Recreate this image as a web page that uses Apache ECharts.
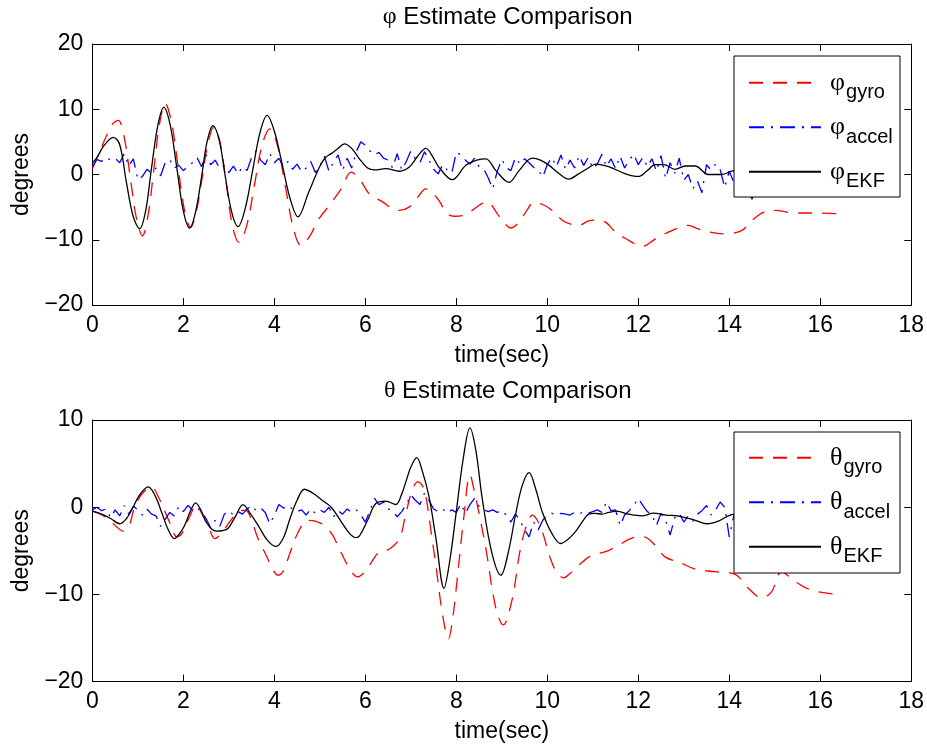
<!DOCTYPE html>
<html>
<head>
<meta charset="utf-8">
<script src="https://cdn.jsdelivr.net/npm/echarts@6/dist/echarts.min.js"></script>
<style>html,body{margin:0;padding:0;background:#fff}#c{width:927px;height:750px}</style>
</head>
<body>
<div id="c"></div>
<script>
// ---------- phi (roll) ----------
const phiGyroT = [0,0.15,0.3,0.45,0.57,0.7,0.835,0.97,1.1,1.225,1.35,1.475,1.6,1.74,1.88,2.02,2.16,2.29,2.415,2.54,2.67,2.81,2.945,3.08,3.22,3.39,3.56,3.73,3.9,4.07,4.245,4.42,4.59,4.8,4.95,5.2,5.47,5.69,5.87,6.09,6.38,6.6,6.75,6.96,7.15,7.33,7.5,7.62,7.8,7.95,8.13,8.35,8.55,8.68,8.9,9.05,9.2,9.38,9.55,9.7,9.9,10.11,10.33,10.55,10.69,10.91,11.1,11.28,11.5,11.79,12.0,12.1,12.37,12.74,13.1,13.3,13.54,13.91,14.27,14.49,14.75,15.0,15.44,15.88,16.36];
const phiGyroV = [0.9,3.3,5.8,7.8,8.3,5.7,-0.55,-6.8,-9.4,-6.2,0.75,7.7,10.9,8.0,1.4,-5.3,-8.1,-5.5,-0.4,4.7,7.3,4.8,-1.55,-7.9,-10.4,-7.9,-1.7,4.5,7.0,4.4,-1.95,-8.3,-10.9,-9.2,-7.1,-4.8,-2.2,0.35,-0.66,-3.0,-4.2,-5.3,-5.5,-5.0,-3.5,-2.2,-3.0,-4.0,-6.0,-6.4,-6.3,-5.5,-4.5,-4.2,-6.0,-7.4,-8.2,-7.3,-5.5,-4.3,-4.6,-5.5,-7.0,-7.7,-7.8,-7.1,-7.0,-7.3,-8.8,-10.1,-10.9,-11.0,-9.9,-8.6,-7.8,-8.3,-8.8,-9.1,-8.6,-7.1,-5.8,-5.5,-5.9,-5.9,-6.0];

const phiEkfT = [0,0.1,0.25,0.46,0.6,0.75,0.9,1.04,1.17,1.3,1.44,1.57,1.71,1.855,2.0,2.14,2.27,2.4,2.52,2.65,2.79,2.92,3.06,3.2,3.36,3.52,3.68,3.84,4.01,4.18,4.35,4.52,4.75,4.99,5.12,5.25,5.4,5.54,5.7,5.87,6.05,6.2,6.45,6.75,6.96,7.15,7.33,7.5,7.62,7.91,8.21,8.45,8.65,8.87,9.16,9.38,9.67,9.85,10.04,10.25,10.47,10.69,10.9,11.06,11.35,11.72,12.0,12.2,12.37,12.56,12.81,13.03,13.25,13.54,13.84,14.05,14.3,14.6,14.9,15.2,15.5,15.8,16.1,16.35];
const phiEkfV = [1.8,2.6,4.4,5.7,4.6,-1.3,-6.5,-8.3,-5.6,1.0,7.6,10.3,7.6,1.05,-5.6,-8.2,-5.7,-0.35,5.0,7.5,5.2,-0.25,-5.7,-8.0,-5.2,0.5,6.3,9.05,6.4,1.3,-3.8,-6.5,-2.8,1.1,2.6,3.2,4.0,4.7,4.0,2.4,1.0,0.7,0.9,0.5,1.1,2.8,4.0,2.5,1.1,-0.8,1.4,2.2,2.4,0.6,-1.2,0.6,2.5,2.2,1.4,0.2,-0.7,0.1,1.0,1.6,1.2,0.1,-0.3,0.6,1.5,1.5,0.8,1.3,1.3,0.0,0.0,0.5,0.8,0.3,0.6,0.2,0.5,0.3,0.4,0.3];

const accelStep = 0.1; // sampling period of the accelerometer estimates (s)
const phiAccelV = [1.2,2.3,2.0,2.6,2.2,2.5,1.8,3.2,1.3,2.4,-0.8,-0.3,0.8,0.2,1.0,-0.2,1.8,2.3,1.0,1.4,0.6,1.3,1.8,2.6,1.2,3.0,1.5,2.2,0.9,1.4,0.3,1.3,0.1,1.2,0.6,2.6,3.6,2.2,1.5,3.2,1.8,2.5,1.2,2.0,0.8,1.6,0.4,1.0,2.0,0.3,1.3,2.8,0.5,1.9,3.0,0.6,2.5,1.0,3.5,5.0,4.5,3.6,3.0,3.4,2.5,2.2,1.0,3.2,0.7,2.0,3.6,2.4,1.8,3.5,2.2,0.8,0.1,1.5,0.7,0.2,3.4,3.0,2.2,1.6,2.5,1.2,0.9,-0.5,-2.2,0.5,2.3,1.0,0.6,2.6,1.6,2.4,1.8,1.1,0.7,-0.4,1.5,2.6,1.2,3.0,0.8,2.2,1.0,2.9,1.4,2.6,0.9,1.6,3.1,1.2,2.4,0.9,2.8,1.0,2.2,3.1,1.5,2.6,1.2,2.4,0.5,2.9,-0.6,1.8,0.2,2.5,-0.9,0.0,-2.2,-1.0,-2.8,1.5,0.7,1.6,0.8,-2.0,0.5,-1.2,1.0,-0.5,-2.0,-3.8,-1.5,0.5,-1.0,0.8,-0.5,1.2,-0.8,0.6,-1.3,0.9,-0.4,1.1,-0.7,0.4,-0.9,0.7,-0.2,0.3];

// ---------- theta (pitch) ----------
const thGyroT = [0,0.22,0.4,0.53,0.68,0.8,0.93,1.1,1.3,1.45,1.63,1.75,1.85,1.97,2.1,2.29,2.45,2.55,2.69,2.85,3.0,3.2,3.37,3.5,3.64,3.82,3.95,4.08,4.2,4.3,4.52,4.73,4.9,5.1,5.28,5.45,5.61,5.83,5.95,6.09,6.31,6.53,6.75,6.88,7.02,7.15,7.25,7.33,7.45,7.55,7.7,7.83,7.9,7.99,8.17,8.3,8.41,8.53,8.65,8.87,9.03,9.23,9.4,9.55,9.67,9.85,10.07,10.2,10.36,10.5,10.69,10.98,11.28,11.57,11.79,12.0,12.12,12.37,12.59,12.96,13.25,13.69,14.13,14.42,14.71,14.93,15.15,15.44,15.8,16.36];
const thGyroV = [-0.46,-0.92,-1.6,-2.25,-2.75,-2.2,0.0,1.6,2.33,1.2,-0.92,-2.4,-3.4,-3.0,-1.5,0.15,-1.2,-2.2,-3.6,-2.9,-1.8,-0.54,-0.35,-1.5,-3.6,-5.5,-7.0,-7.8,-7.3,-5.9,-2.9,-1.5,-1.6,-2.1,-3.2,-5.0,-6.65,-8.0,-7.6,-6.65,-5.1,-4.8,-3.6,-1.0,1.8,2.9,2.5,1.3,-3.0,-6.65,-12.4,-15.1,-13.5,-9.7,-0.92,3.7,1.5,-1.5,-4.75,-11.6,-13.5,-10.5,-5.0,-2.0,-0.92,-2.25,-5.9,-7.4,-8.1,-7.6,-6.65,-5.5,-5.1,-4.35,-3.7,-3.4,-3.4,-4.35,-5.7,-6.45,-7.1,-7.4,-7.7,-9.3,-10.4,-9.7,-7.4,-8.5,-9.5,-10.0];

const thEkfT = [0,0.2,0.4,0.6,0.75,0.86,1.05,1.23,1.38,1.52,1.66,1.8,1.92,2.03,2.15,2.27,2.4,2.5,2.62,2.73,2.85,2.98,3.15,3.31,3.48,3.64,3.85,4.04,4.2,4.35,4.5,4.66,4.85,5.05,5.25,5.45,5.65,5.8,5.87,6.05,6.23,6.45,6.67,6.8,6.89,7.0,7.13,7.25,7.4,7.55,7.73,7.86,7.99,8.15,8.3,8.43,8.57,8.78,8.98,9.15,9.3,9.45,9.6,9.75,9.89,10.1,10.29,10.45,10.62,10.78,10.91,11.05,11.2,11.35,11.53,11.79,12.08,12.34,12.6,12.89,13.25,13.51,13.76,14.05,14.4,14.8,15.2,15.6,16.0,16.35];
const thEkfV = [-0.46,-0.8,-1.3,-1.9,-1.3,-0.35,1.5,2.33,1.3,-0.54,-2.5,-3.6,-3.0,-2.06,-0.5,0.5,-0.5,-1.7,-2.5,-2.75,-2.7,-2.45,-1.0,0.3,-0.8,-2.06,-3.8,-4.5,-3.5,-1.2,0.8,2.06,1.6,0.8,0.0,-1.5,-3.0,-3.5,-3.3,-1.5,0.42,0.69,0.31,1.5,2.9,4.6,5.69,4.2,1.2,-3.5,-9.3,-6.0,-0.9,5.5,9.09,6.5,0.99,-5.2,-7.8,-5.0,-0.9,2.5,3.97,2.0,-0.54,-3.0,-4.16,-3.7,-2.8,-1.6,-0.8,-0.7,-0.8,-0.6,-0.46,-0.8,-1.0,-0.69,-0.9,-1.03,-1.5,-1.9,-1.6,-0.84,-0.7,-0.9,-0.6,-0.8,-0.7,-0.8];

const thAccelV = [-0.3,0.0,-0.4,-0.2,-1.2,-0.3,-1.0,0.2,-0.8,0.1,-0.3,-0.9,-0.2,-0.8,-1.0,-2.2,-1.4,-0.6,-1.0,0.1,-0.5,0.2,-0.3,0.0,-0.6,-1.3,-2.4,-1.5,-2.2,-0.8,-0.4,-0.9,-0.5,-0.8,-0.2,0.2,-0.4,-0.1,-0.6,-1.9,-0.9,0.3,-0.1,0.2,-0.2,-0.5,-0.3,-0.9,-0.2,-0.7,-0.3,-0.6,0.0,-1.1,-0.4,-0.8,-0.2,-0.6,-0.3,-0.9,-1.7,-0.4,1.0,0.3,0.6,-0.2,-0.4,-1.1,-0.5,0.3,1.4,0.8,0.3,1.6,0.8,-0.2,-0.5,-0.2,-0.7,-0.3,-0.6,0.4,-0.7,0.3,1.0,0.1,-0.3,-0.5,-0.3,-0.6,-0.4,-0.9,-1.7,-0.8,-1.5,-2.6,-3.4,-1.7,-2.6,-1.5,-0.9,-0.7,-0.9,-0.7,-0.8,-0.9,-0.6,-0.8,-0.5,-0.7,-0.5,-0.3,-0.6,0.6,-0.4,-0.3,-2.1,-0.9,-0.4,0.2,1.0,0.2,-0.5,-0.9,-2.1,-0.7,-1.5,-3.2,-1.2,-0.7,-1.7,-1.0,-1.6,-0.8,-0.4,0.2,-0.9,-0.3,0.6,0.0,-3.4,-1.0,-0.5,0.3,-0.8,-1.5,-0.2,0.4,-0.9,-0.3,0.5,-1.1,-0.4,0.2,-0.7,-1.3,-0.2,0.4,-0.6,-1.0,-0.3,0.2,-0.5,-0.2];

// axis ticks
const xMin = 0, xMax = 18, xStep = 2;
const phiYMin = -20, phiYMax = 20, phiYStep = 10;
const thYMin = -20, thYMax = 10, thYStep = 10;

// ---------- helpers ----------
function pairs(t, v) { return t.map((x, i) => [x, v[i]]); }
function accelPairs(v) { return v.map((y, i) => [+(i * accelStep).toFixed(2), y]); }

const FONT = 'Liberation Sans';
const GREEK = 'Liberation Serif';
const RED = '#ff0000', BLUE = '#0000ff', BLACK = '#000000';
const minus = v => String(v).replace('-', '\u2212');

function xAxes(g) {
  return [
    { gridIndex: g, type: 'value', min: xMin, max: xMax, interval: xStep, position: 'bottom',
      axisLine: { show: true, onZero: false, lineStyle: { color: BLACK, width: 1 } },
      axisTick: { show: true, inside: true, length: 7, lineStyle: { color: BLACK } },
      axisLabel: { show: true, color: BLACK, fontSize: 23, fontFamily: FONT, margin: 9, formatter: minus },
      splitLine: { show: false },
      name: 'time(sec)', nameLocation: 'middle', nameGap: 39,
      nameTextStyle: { color: BLACK, fontSize: 23, fontFamily: FONT } },
    { gridIndex: g, type: 'value', min: xMin, max: xMax, interval: xStep, position: 'top',
      axisLine: { show: true, onZero: false, lineStyle: { color: BLACK, width: 1 } },
      axisTick: { show: true, inside: true, length: 7, lineStyle: { color: BLACK } },
      axisLabel: { show: false }, splitLine: { show: false } }
  ];
}
function yAxes(g, mn, mx, st) {
  return [
    { gridIndex: g, type: 'value', min: mn, max: mx, interval: st, position: 'left',
      axisLine: { show: true, onZero: false, lineStyle: { color: BLACK, width: 1 } },
      axisTick: { show: true, inside: true, length: 7, lineStyle: { color: BLACK } },
      axisLabel: { show: true, color: BLACK, fontSize: 23, fontFamily: FONT, margin: 9, formatter: minus },
      splitLine: { show: false },
      name: 'degrees', nameLocation: 'middle', nameGap: 58, nameRotate: 90,
      nameTextStyle: { color: BLACK, fontSize: 23, fontFamily: FONT } },
    { gridIndex: g, type: 'value', min: mn, max: mx, interval: st, position: 'right',
      axisLine: { show: true, onZero: false, lineStyle: { color: BLACK, width: 1 } },
      axisTick: { show: true, inside: true, length: 7, lineStyle: { color: BLACK } },
      axisLabel: { show: false }, splitLine: { show: false } }
  ];
}
function line(name, data, xi, yi, color, type) {
  return { name, type: 'line', xAxisIndex: xi, yAxisIndex: yi, data, showSymbol: false, symbol: 'none',
    smooth: type === 'accel' ? false : 0.35, animation: false,
    lineStyle: { color, width: 1.3, type: type === 'gyro' ? [14, 10] : (type === 'accel' ? [15, 7, 2, 7] : 'solid') },
    itemStyle: { color }, z: 2 };
}
const legendRich = {
  s: { fontSize: 26, fontFamily: GREEK, color: BLACK, padding: [0, 0, 0, 4] },
  sub: { fontSize: 20, fontFamily: FONT, color: BLACK, lineHeight: 20, padding: [20, 0, 0, 1] }
};
function legend(names, top) {
  return { data: names, orient: 'vertical', left: 748, top: top, padding: 0, itemGap: 4.5,
    itemWidth: 72, itemHeight: 14, selectedMode: false, z: 60,
    itemStyle: { color: 'rgba(0,0,0,0)', borderColor: 'rgba(0,0,0,0)', borderWidth: 0, opacity: 0 },
    formatter: n => '{s|' + n.charAt(0) + '}{sub|' + n.slice(1) + '}',
    textStyle: { color: BLACK, rich: legendRich } };
}
const titleRich = {
  g: { fontSize: 24, fontFamily: GREEK, color: BLACK },
  t: { fontSize: 24, fontFamily: FONT, color: BLACK }
};

const option = {
  backgroundColor: '#ffffff',
  animation: false,
  textStyle: { fontFamily: FONT },
  title: [
    { text: '{g|\u03c6} {t|Estimate Comparison}', left: 502.7, top: 0, textAlign: 'center',
      textStyle: { fontSize: 24, fontWeight: 'normal', color: BLACK, fontFamily: FONT, rich: titleRich } },
    { text: '{g|\u03b8} {t|Estimate Comparison}', left: 502.7, top: 374, textAlign: 'center',
      textStyle: { fontSize: 24, fontWeight: 'normal', color: BLACK, fontFamily: FONT, rich: titleRich } }
  ],
  grid: [
    { left: 92.4, top: 44, width: 820.6, height: 261, containLabel: false },
    { left: 92.4, top: 420, width: 820.6, height: 261.6, containLabel: false }
  ],
  xAxis: [...xAxes(0), ...xAxes(1)],
  yAxis: [...yAxes(0, phiYMin, phiYMax, phiYStep), ...yAxes(1, thYMin, thYMax, thYStep)],
  legend: [
    legend(['\u03c6gyro', '\u03c6accel', '\u03c6EKF'], 62.7),
    legend(['\u03b8gyro', '\u03b8accel', '\u03b8EKF'], 437.7)
  ],
  graphic: [
    { type: 'rect', shape: { x: 734, y: 56, width: 166, height: 141 }, style: { fill: '#fff', stroke: BLACK, lineWidth: 1 }, z: 50 },
    { type: 'rect', shape: { x: 734, y: 432, width: 166, height: 141 }, style: { fill: '#fff', stroke: BLACK, lineWidth: 1 }, z: 50 }
  ],
  series: [
    line('\u03c6gyro', pairs(phiGyroT, phiGyroV), 0, 0, RED, 'gyro'),
    line('\u03c6accel', accelPairs(phiAccelV), 0, 0, BLUE, 'accel'),
    line('\u03c6EKF', pairs(phiEkfT, phiEkfV), 0, 0, BLACK, 'ekf'),
    line('\u03b8gyro', pairs(thGyroT, thGyroV), 2, 2, RED, 'gyro'),
    line('\u03b8accel', accelPairs(thAccelV), 2, 2, BLUE, 'accel'),
    line('\u03b8EKF', pairs(thEkfT, thEkfV), 2, 2, BLACK, 'ekf')
  ]
};
const chart = echarts.init(document.getElementById('c'), null, { renderer: 'canvas' });
chart.setOption(option);
</script>
</body>
</html>
